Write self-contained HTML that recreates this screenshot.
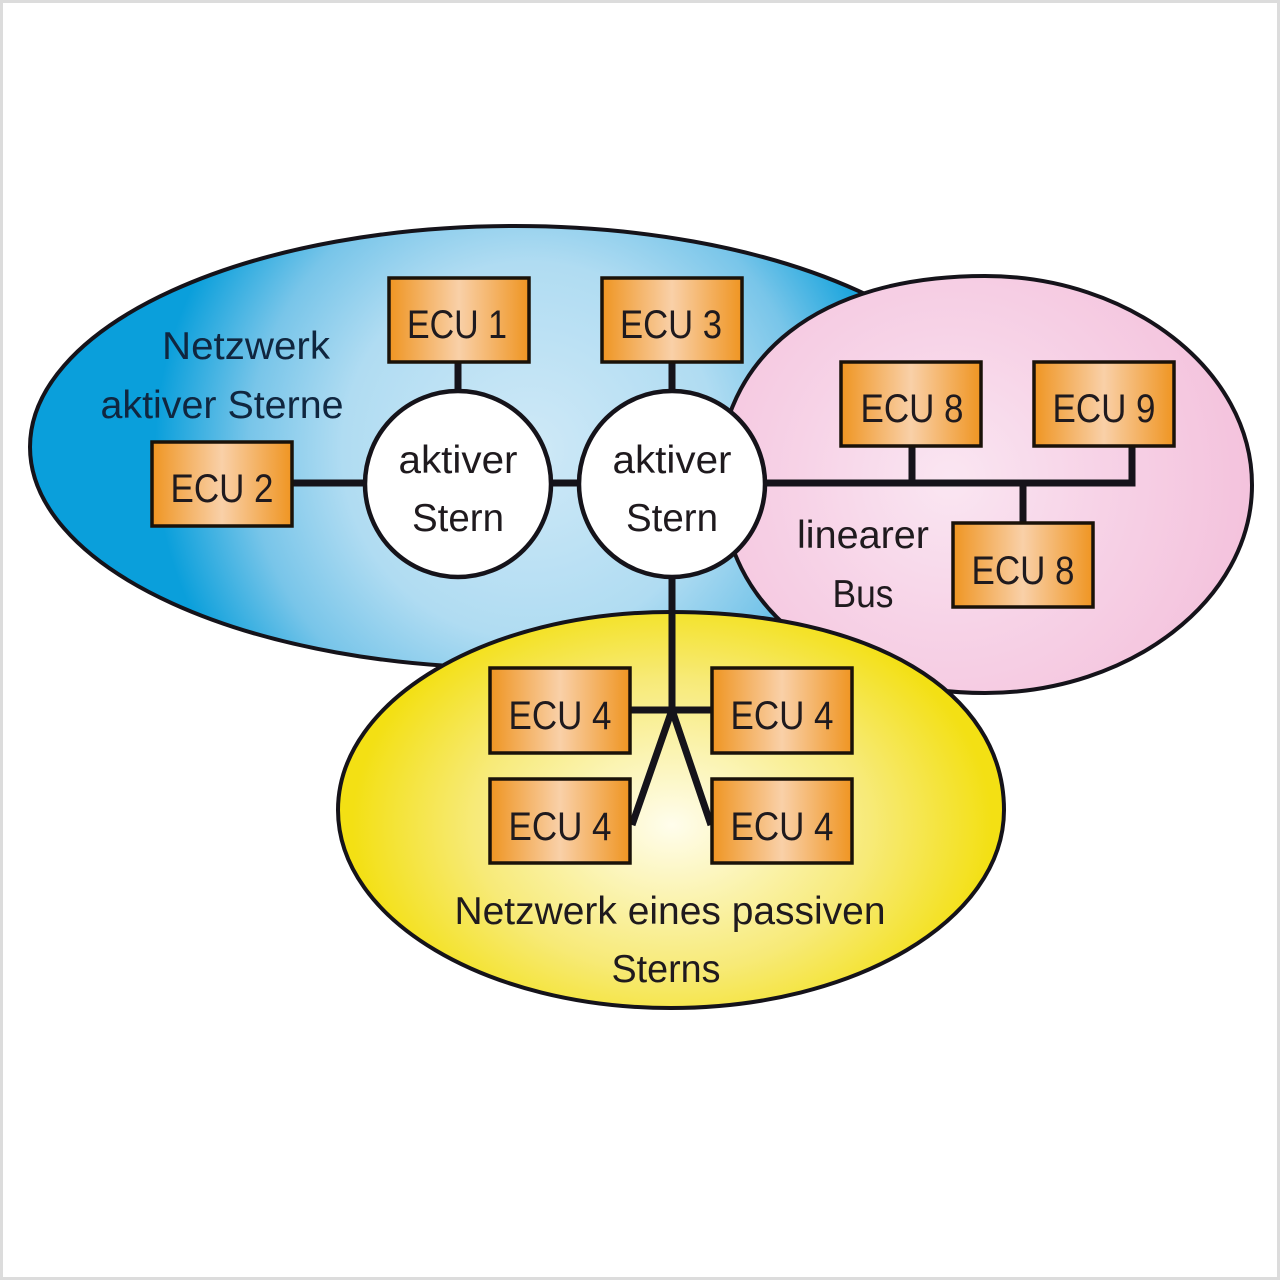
<!DOCTYPE html>
<html><head><meta charset="utf-8"><style>
html,body{margin:0;padding:0;background:#fff}
svg{display:block}
text{font-family:"Liberation Sans",sans-serif;font-size:39px;fill:#1f1a1e;text-anchor:middle}
.e{font-size:40px}
.n{fill:#10263f}
.b{fill:url(#o);stroke:#1a1209;stroke-width:3.5}
.l{stroke:#15131a;stroke-width:7;fill:none;stroke-linejoin:miter}
</style></head><body>
<svg width="1280" height="1280" viewBox="0 0 1280 1280" xmlns="http://www.w3.org/2000/svg">
<defs>
<radialGradient id="bl" gradientUnits="userSpaceOnUse" cx="530" cy="450" r="375">
<stop offset="0" stop-color="#cfe9f7"/><stop offset="0.5" stop-color="#b0dcf2"/><stop offset="0.75" stop-color="#78c5e9"/><stop offset="1" stop-color="#0a9fdb"/></radialGradient>
<radialGradient id="pk" gradientUnits="userSpaceOnUse" cx="950" cy="480" r="295"><stop offset="0" stop-color="#fae6f2"/><stop offset="0.5" stop-color="#f7d3e7"/><stop offset="1" stop-color="#f4c3dd"/></radialGradient>
<radialGradient id="ye" gradientUnits="userSpaceOnUse" cx="0" cy="0" r="1" gradientTransform="translate(672 825) scale(320 235)"><stop offset="0" stop-color="#fffdec"/><stop offset="0.3" stop-color="#fbf4b4"/><stop offset="0.62" stop-color="#f7ea78"/><stop offset="1" stop-color="#f3e014"/></radialGradient>
<linearGradient id="o" x1="0" x2="1" y1="0" y2="0"><stop offset="0" stop-color="#ef9522"/><stop offset="0.5" stop-color="#f9d0a8"/><stop offset="1" stop-color="#ef9522"/></linearGradient>
</defs>
<rect x="1.5" y="1.5" width="1277" height="1277" fill="#fff" stroke="#dcdcdc" stroke-width="3"/>
<ellipse cx="515" cy="447" rx="485" ry="221" fill="url(#bl)" stroke="#15131a" stroke-width="4"/>
<path d="M985 276C820 276 718 355 718 485L722 485C722 605 830 693 985 693C1130 693 1252 600 1252 485C1252 370 1130 276 985 276Z" fill="url(#pk)" stroke="#15131a" stroke-width="4"/>
<path d="M671 612C871 612 1004 691 1004 810C1004 920 855 1008 671 1008C487 1008 338 920 338 810C338 700 487 612 671 612Z" fill="url(#ye)" stroke="#15131a" stroke-width="4"/>

<path class="l" d="M458 362V395M672 362V395M293 483H370M548 483H582M760 483H1132V446M912 446V483M1023 483V522M672 575V710M631 710H711M672 710L632 825M672 710L711 825"/>
<circle cx="458" cy="484" r="93" fill="#fff" stroke="#15131a" stroke-width="4.5"/>
<circle cx="672" cy="484" r="93" fill="#fff" stroke="#15131a" stroke-width="4.5"/>

<rect class="b" x="389" y="278" width="140" height="84"/>
<rect class="b" x="602" y="278" width="140" height="84"/>
<rect class="b" x="152" y="442" width="140" height="84"/>
<rect class="b" x="841" y="362" width="140" height="84"/>
<rect class="b" x="1034" y="362" width="140" height="84"/>
<rect class="b" x="953" y="523" width="140" height="84"/>
<rect class="b" x="490" y="668" width="140" height="85"/>
<rect class="b" x="712" y="668" width="140" height="85"/>
<rect class="b" x="490" y="779" width="140" height="84"/>
<rect class="b" x="712" y="779" width="140" height="84"/>

<text class="e" x="457" y="338" textLength="100" lengthAdjust="spacingAndGlyphs">ECU 1</text>
<text class="e" x="671" y="338" textLength="102" lengthAdjust="spacingAndGlyphs">ECU 3</text>
<text class="e" x="222" y="502" textLength="103" lengthAdjust="spacingAndGlyphs">ECU 2</text>
<text class="e" x="912" y="422" textLength="103" lengthAdjust="spacingAndGlyphs">ECU 8</text>
<text class="e" x="1104" y="422" textLength="103" lengthAdjust="spacingAndGlyphs">ECU 9</text>
<text class="e" x="1023" y="584" textLength="103" lengthAdjust="spacingAndGlyphs">ECU 8</text>
<text class="e" x="560" y="729" textLength="103" lengthAdjust="spacingAndGlyphs">ECU 4</text>
<text class="e" x="782" y="729" textLength="103" lengthAdjust="spacingAndGlyphs">ECU 4</text>
<text class="e" x="560" y="840" textLength="103" lengthAdjust="spacingAndGlyphs">ECU 4</text>
<text class="e" x="782" y="840" textLength="103" lengthAdjust="spacingAndGlyphs">ECU 4</text>

<text class="n" x="246" y="359" textLength="168" lengthAdjust="spacingAndGlyphs">Netzwerk</text>
<text class="n" x="222" y="418" textLength="243" lengthAdjust="spacingAndGlyphs">aktiver Sterne</text>
<text x="458" y="473" textLength="119" lengthAdjust="spacingAndGlyphs">aktiver</text>
<text x="458" y="531" textLength="92" lengthAdjust="spacingAndGlyphs">Stern</text>
<text x="672" y="473" textLength="119" lengthAdjust="spacingAndGlyphs">aktiver</text>
<text x="672" y="531" textLength="92" lengthAdjust="spacingAndGlyphs">Stern</text>
<text x="863" y="548" textLength="132" lengthAdjust="spacingAndGlyphs">linearer</text>
<text x="863" y="607" textLength="61" lengthAdjust="spacingAndGlyphs">Bus</text>
<text x="670" y="924" textLength="431" lengthAdjust="spacingAndGlyphs">Netzwerk eines passiven</text>
<text x="666" y="982" textLength="109" lengthAdjust="spacingAndGlyphs">Sterns</text>
</svg>
</body></html>
